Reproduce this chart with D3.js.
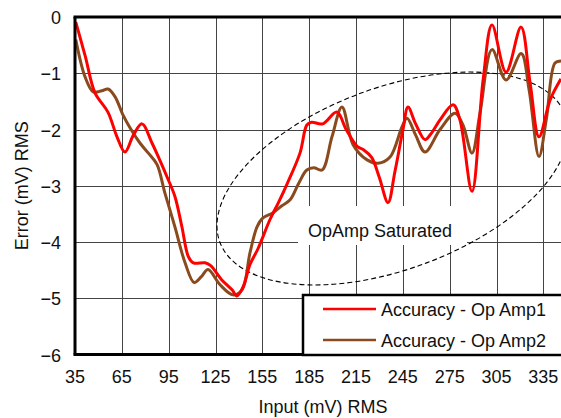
<!DOCTYPE html>
<html>
<head>
<meta charset="utf-8">
<script src="https://cdn.jsdelivr.net/npm/d3@7"></script>
<style>
  html, body { margin: 0; padding: 0; background: #fff; }
  svg { display: block; font-family: "Liberation Sans", Arial, sans-serif; }
</style>
</head>
<body>
<svg id="chart" width="561" height="418"></svg>
<script>
// Input level (mV RMS) and measured error (mV RMS) for each op amp
const amp1Input = [35.5, 41.6, 47.8, 56.1, 61.9, 67.0, 72.4, 77.9, 84.3, 89.4, 93.9, 99.0, 103.4, 107.6, 110.8, 118.3, 121.9, 128.9, 135.6, 138.7, 142.8, 147.1, 152.2, 159.9, 165.3, 170.8, 179.1, 183.5, 186.5, 193.6, 202.7, 208.7, 215.7, 219.8, 225.1, 229.9, 235.5, 239.9, 245.1, 248.3, 253.2, 259.2, 263.7, 268.8, 277.2, 281.6, 289.3, 296.4, 302.1, 311.1, 320.7, 326.5, 332.2, 339.4, 346.3];
const amp1Error = [-0.09, -0.7, -1.35, -1.69, -2.13, -2.40, -2.1, -1.9, -2.24, -2.55, -2.84, -3.19, -3.72, -4.26, -4.37, -4.37, -4.42, -4.67, -4.85, -4.96, -4.79, -4.4, -4.12, -3.6, -3.3, -2.97, -2.42, -1.92, -1.87, -1.9, -1.69, -2.0, -2.3, -2.36, -2.5, -2.85, -3.3, -2.75, -2.0, -1.6, -1.9, -2.18, -2.05, -1.83, -1.56, -1.83, -3.1, -1.12, -0.14, -0.98, -0.18, -1.17, -2.13, -1.47, -1.1];

const amp2Input = [35.5, 41.4, 46.7, 52.2, 56.2, 60.7, 65.7, 70.9, 76.6, 82.0, 87.5, 92.6, 99.0, 105.5, 111.3, 115.8, 120.2, 127.9, 136.2, 142.0, 147.1, 151.6, 155.4, 161.9, 167.3, 172.8, 178.4, 183.5, 188.0, 193.3, 199.6, 206.0, 213.1, 222.1, 229.1, 236.8, 244.5, 247.7, 253.2, 259.2, 268.8, 278.4, 283.5, 289.3, 294.4, 302.1, 311.1, 320.8, 325.9, 332.2, 337.0, 342.4, 346.3];
const amp2Error = [-0.4, -1.06, -1.33, -1.31, -1.28, -1.42, -1.74, -2.0, -2.24, -2.42, -2.62, -3.13, -3.73, -4.37, -4.72, -4.62, -4.49, -4.76, -4.94, -4.85, -4.19, -3.73, -3.57, -3.48, -3.36, -3.25, -2.95, -2.72, -2.68, -2.72, -2.13, -1.6, -2.27, -2.54, -2.6, -2.49, -1.95, -1.8, -2.1, -2.4, -2.0, -1.71, -1.92, -2.42, -1.71, -0.58, -1.12, -0.65, -1.3, -2.48, -1.8, -0.82, -0.78];

const xTicks = [35, 65, 95, 125, 155, 185, 215, 245, 275, 305, 335];
const yTicks = [0, -1, -2, -3, -4, -5, -6];
const seriesNames = ["Accuracy - Op Amp1", "Accuracy - Op Amp2"];
const seriesColors = ["#ff0000", "#8b4a1e"];
const xTitle = "Input (mV) RMS";
const yTitle = "Error (mV) RMS";
const noteText = "OpAmp Saturated";

const svg = d3.select("#chart");
const plotLeft = 75, plotTop = 17, plotBottom = 354.5, plotRight = 561;

const x = d3.scaleLinear().domain([35, 346.3]).range([plotLeft, plotRight]);
const y = d3.scaleLinear().domain([-6, 0]).range([plotBottom, plotTop]);

// grid
const grid = svg.append("g").attr("stroke", "#444").attr("stroke-width", 1).attr("shape-rendering", "crispEdges");
grid.selectAll("line.v").data(xTicks.slice(1)).join("line")
  .attr("x1", d => Math.round(x(d)) + 0.5).attr("x2", d => Math.round(x(d)) + 0.5)
  .attr("y1", plotTop).attr("y2", plotBottom);
grid.selectAll("line.h").data(yTicks.filter(d => d !== 0 && d !== -6)).join("line")
  .attr("x1", plotLeft).attr("x2", plotRight)
  .attr("y1", d => Math.round(y(d)) + 0.5).attr("y2", d => Math.round(y(d)) + 0.5);

// saturation annotation: white label patch and dashed ellipse
svg.append("rect").attr("x", 298).attr("y", 206).attr("width", 169).attr("height", 39).attr("fill", "#fff");
svg.append("ellipse")
  .attr("cx", 392.5).attr("cy", 178.5).attr("rx", 184).attr("ry", 91)
  .attr("transform", "rotate(-20.2 392.5 178.5)")
  .attr("fill", "none").attr("stroke", "#000").attr("stroke-width", 1.1)
  .attr("stroke-dasharray", "5,3");
svg.append("text").attr("x", 308).attr("y", 237).attr("font-size", 18).attr("fill", "#111").text(noteText);

// curves
const line = d3.line().x(d => x(d[0])).y(d => y(d[1])).curve(d3.curveCatmullRom.alpha(0.5));
const series = [
  d3.zip(amp1Input, amp1Error),
  d3.zip(amp2Input, amp2Error)
];
svg.append("clipPath").attr("id", "plotclip").append("rect")
  .attr("x", plotLeft).attr("y", plotTop - 5).attr("width", plotRight - plotLeft).attr("height", plotBottom - plotTop + 5);
// brown first so red sits on top
[1, 0].forEach(i => {
  svg.append("path").datum(series[i])
    .attr("d", line)
    .attr("fill", "none")
    .attr("stroke", seriesColors[i])
    .attr("stroke-width", 3)
    .attr("stroke-linejoin", "round")
    .attr("clip-path", "url(#plotclip)");
});

// frame
const frame = svg.append("g").attr("stroke", "#000").attr("stroke-width", 3);
frame.append("line").attr("x1", plotLeft - 1.5).attr("x2", plotRight).attr("y1", plotTop).attr("y2", plotTop);
frame.append("line").attr("x1", plotLeft).attr("x2", plotLeft).attr("y1", plotTop).attr("y2", plotBottom);
frame.append("line").attr("x1", plotLeft - 1.5).attr("x2", plotRight).attr("y1", plotBottom).attr("y2", plotBottom);

// axis labels
svg.append("g").selectAll("text").data(xTicks).join("text")
  .attr("x", d => x(d)).attr("y", 383)
  .attr("text-anchor", "middle").attr("font-size", 18).attr("fill", "#111")
  .text(d => d);
svg.append("g").selectAll("text").data(yTicks).join("text")
  .attr("x", 61).attr("y", d => y(d) + 7)
  .attr("text-anchor", "end").attr("font-size", 18).attr("fill", "#111")
  .text(d => d === 0 ? "0" : "\u2212" + Math.abs(d));
svg.append("text").attr("x", 323).attr("y", 413)
  .attr("text-anchor", "middle").attr("font-size", 18).attr("fill", "#111").text(xTitle);
svg.append("text").attr("transform", `translate(28,${(plotTop + plotBottom) / 2}) rotate(-90)`)
  .attr("text-anchor", "middle").attr("font-size", 18).attr("fill", "#111").text(yTitle);

// legend
const lg = svg.append("g");
lg.append("rect").attr("x", 303).attr("y", 295).attr("width", 270).attr("height", 60)
  .attr("fill", "#fff").attr("stroke", "#000").attr("stroke-width", 2.5);
seriesNames.forEach((name, i) => {
  const yy = 309 + i * 31;
  lg.append("line").attr("x1", 323).attr("x2", 376).attr("y1", yy).attr("y2", yy)
    .attr("stroke", seriesColors[i]).attr("stroke-width", 2.5);
  lg.append("text").attr("x", 381).attr("y", yy + 7).attr("font-size", 18).attr("fill", "#111").text(name);
});
</script>
</body>
</html>
